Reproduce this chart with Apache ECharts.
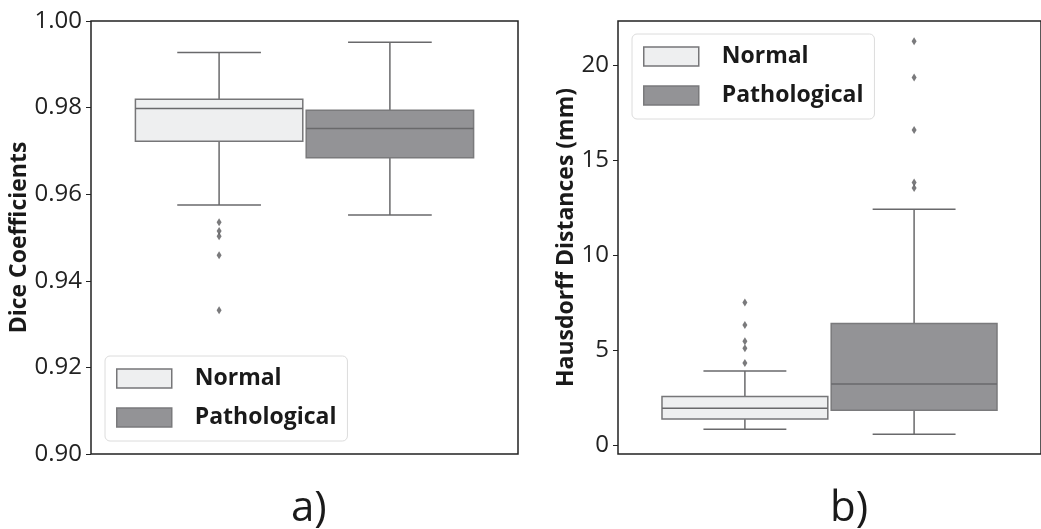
<!DOCTYPE html>
<html>
<head>
<meta charset="utf-8">
<script src="https://cdn.jsdelivr.net/npm/echarts@6/dist/echarts.min.js"></script>
<style>
html,body{margin:0;padding:0;background:#fff;}
#main{width:1041px;height:529px;}
</style>
</head>
<body>
<div id="main"></div>
<script>
// ---- data ----
const groups = ['Normal', 'Pathological'];
const groupPos = [-0.2, 0.2]; // dodge offsets within the single x slot
// [lower whisker, Q1, median, Q3, upper whisker]
const diceNormal = [0.9575, 0.9722, 0.9798, 0.9819, 0.9927];
const dicePath   = [0.9552, 0.9684, 0.9752, 0.9794, 0.9951];
const diceNormalOutliers = [0.9535, 0.9515, 0.9503, 0.9459, 0.9332];
const dicePathOutliers = [];
const hdNormal = [0.86, 1.40, 1.97, 2.58, 3.93];
const hdPath   = [0.60, 1.86, 3.24, 6.43, 12.44];
const hdNormalOutliers = [7.54, 6.35, 5.50, 5.12, 4.35];
const hdPathOutliers   = [21.29, 19.38, 16.61, 13.85, 13.56];
const diceTicks = [0.90, 0.92, 0.94, 0.96, 0.98, 1.00];
const hdTicks = [0, 5, 10, 15, 20];
const panelLabels = ['a)', 'b)'];

// ---- styles ----
const FONT = 'Open Sans';
const fills = {Normal: '#eeeff0', Pathological: '#939396'};
const edges = {Normal: '#767678', Pathological: '#7a7a7c'};
const lineColor = '#69696b';
const HALF_W = 0.196, CAP_HALF = 0.098;

function renderBox(params, api) {
  const x = api.value(0);
  const low = api.value(1), q1 = api.value(2), med = api.value(3), q3 = api.value(4), high = api.value(5);
  const tl = api.coord([x - HALF_W, q3]);
  const br = api.coord([x + HALF_W, q1]);
  const cx = api.coord([x, med])[0];
  const yLow = api.coord([x, low])[1], yHigh = api.coord([x, high])[1], yMed = api.coord([x, med])[1];
  const capL = api.coord([x - CAP_HALF, low])[0], capR = api.coord([x + CAP_HALF, low])[0];
  const ls = {stroke: lineColor, lineWidth: 1.5};
  const name = groups[params.seriesIndex % 2];
  return {
    type: 'group',
    children: [
      {type: 'line', shape: {x1: cx, y1: tl[1], x2: cx, y2: yHigh}, style: ls},
      {type: 'line', shape: {x1: cx, y1: br[1], x2: cx, y2: yLow}, style: ls},
      {type: 'line', shape: {x1: capL, y1: yHigh, x2: capR, y2: yHigh}, style: ls},
      {type: 'line', shape: {x1: capL, y1: yLow, x2: capR, y2: yLow}, style: ls},
      {type: 'rect', shape: {x: tl[0], y: tl[1], width: br[0] - tl[0], height: br[1] - tl[1]},
        style: {fill: api.visual('color'), stroke: edges[name], lineWidth: 1.5}},
      {type: 'line', shape: {x1: tl[0], y1: yMed, x2: br[0], y2: yMed}, style: ls}
    ]
  };
}

function boxSeries(name, gi, stats, idx) {
  return {
    name: name, type: 'custom', xAxisIndex: idx, yAxisIndex: idx,
    renderItem: renderBox,
    itemStyle: {color: fills[name], borderColor: edges[name], borderWidth: 1.5},
    encode: {x: 0, y: [1, 2, 3, 4, 5]},
    data: [[groupPos[gi]].concat(stats)],
    z: 2
  };
}
function outlierSeries(gi, vals, idx) {
  return {
    type: 'scatter', xAxisIndex: idx, yAxisIndex: idx,
    symbol: 'diamond', symbolSize: [5, 8],
    itemStyle: {color: '#59595b'},
    data: vals.map(v => [groupPos[gi], v]),
    z: 3, silent: true
  };
}

const legendText = {fontFamily: FONT, fontWeight: 'bold', fontSize: 23, color: '#1a1a1a', padding: [0, 0, 0, 18], lineHeight: 19};
function legend(left, top) {
  return {
    orient: 'vertical', left: left, top: top,
    itemWidth: 55, itemHeight: 19, itemGap: 16,
    padding: [11, 11, 12, 11],
    backgroundColor: '#fff', borderColor: '#dcdcdc', borderWidth: 1, borderRadius: 5,
    selectedMode: false, icon: 'rect',
    textStyle: legendText,
    data: groups.map(g => ({name: g, itemStyle: {color: fills[g], borderColor: edges[g], borderWidth: 1.5}}))
  };
}

const axisLabelStyle = {fontFamily: FONT, fontSize: 24, color: '#222'};
const nameStyle = {fontFamily: FONT, fontSize: 23, fontWeight: 'bold', color: '#1a1a1a'};

const chart = echarts.init(document.getElementById('main'), null, {renderer: 'canvas'});
chart.setOption({
  animation: false,
  backgroundColor: '#fff',
  grid: [
    {left: 91, top: 21, width: 427, height: 433, show: true, borderColor: '#222', borderWidth: 1.5, backgroundColor: 'transparent'},
    {left: 618, top: 21, width: 434, height: 433, show: true, borderColor: '#222', borderWidth: 1.5, backgroundColor: 'transparent'}
  ],
  xAxis: [
    {gridIndex: 0, type: 'value', min: -0.5, max: 0.5, show: false},
    {gridIndex: 1, type: 'value', min: -0.5, max: 0.5, show: false}
  ],
  yAxis: [
    {gridIndex: 0, type: 'value', min: 0.90, max: 1.00, interval: 0.02,
      name: 'Dice Coefficients', nameLocation: 'middle', nameGap: 59, nameTextStyle: nameStyle,
      axisLine: {show: false, onZero: false}, splitLine: {show: false},
      axisTick: {show: true, length: 5, lineStyle: {color: '#222'}},
      axisLabel: {margin: 9, formatter: v => v.toFixed(2), ...axisLabelStyle}},
    {gridIndex: 1, type: 'value', min: -0.44, max: 22.35,
      name: 'Hausdorff Distances (mm)', nameLocation: 'middle', nameGap: 35, nameTextStyle: nameStyle,
      axisLine: {show: false, onZero: false}, splitLine: {show: false},
      axisTick: {show: true, length: 5, customValues: hdTicks, lineStyle: {color: '#222'}},
      axisLabel: {margin: 9, customValues: hdTicks, ...axisLabelStyle}}
  ],
  legend: [legend(105, 356), legend(632, 34)],
  series: [
    boxSeries('Normal', 0, diceNormal, 0),
    boxSeries('Pathological', 1, dicePath, 0),
    outlierSeries(0, diceNormalOutliers, 0),
    outlierSeries(1, dicePathOutliers, 0),
    boxSeries('Normal', 0, hdNormal, 1),
    boxSeries('Pathological', 1, hdPath, 1),
    outlierSeries(0, hdNormalOutliers, 1),
    outlierSeries(1, hdPathOutliers, 1)
  ],
  graphic: [
    {type: 'text', left: 308 - 17, top: 488, style: {text: panelLabels[0], font: '42px "Open Sans"', fill: '#1a1a1a'}},
    {type: 'text', left: 847 - 17, top: 488, style: {text: panelLabels[1], font: '42px "Open Sans"', fill: '#1a1a1a'}}
  ]
});
</script>
</body>
</html>
